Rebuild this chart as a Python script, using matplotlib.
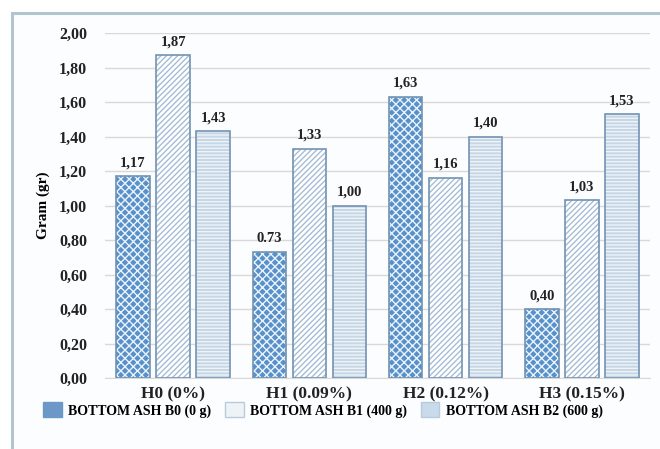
import numpy as np
import matplotlib
matplotlib.use("Agg")
import matplotlib.pyplot as plt
from matplotlib.patches import Rectangle, Patch

# data
groups = ["H0 (0%)", "H1 (0.09%)", "H2 (0.12%)", "H3 (0.15%)"]
series = ["BOTTOM ASH B0 (0 g)", "BOTTOM ASH B1 (400 g)", "BOTTOM ASH B2 (600 g)"]
b0 = [1.17, 0.73, 1.63, 0.40]
b1 = [1.87, 1.33, 1.16, 1.03]
b2 = [1.43, 1.00, 1.40, 1.53]
b0_labels = ["1,17", "0.73", "1,63", "0,40"]
b1_labels = ["1,87", "1,33", "1,16", "1,03"]
b2_labels = ["1,43", "1,00", "1,40", "1,53"]
yticks = [0.0, 0.2, 0.4, 0.6, 0.8, 1.0, 1.2, 1.4, 1.6, 1.8, 2.0]

plt.rcParams["font.family"] = ["Liberation Serif", "DejaVu Serif"]
plt.rcParams["hatch.linewidth"] = 1.0

fig = plt.figure(figsize=(6.6, 4.49), dpi=100)
fig.patch.set_facecolor("white")

# outer frame
fig.patches.append(Rectangle((12 / 660, -0.05), 1.0, 1 - 13 / 449 + 0.05,
                             transform=fig.transFigure, facecolor="#fcfdfe",
                             edgecolor="#b0c5d0", linewidth=2.2, zorder=-10))

ax = fig.add_axes([105 / 660, 1 - 378 / 449, 545 / 660, (378 - 33) / 449])
ax.set_facecolor("none")
ax.set_zorder(1)

x = np.arange(len(groups))
w = 0.245
step = 0.294
styles = [
    (b0, b0_labels, "#5890c9", "#eaf3fc", "xxxx"),
    (b1, b1_labels, "white", "#a5bdd5", "//////"),
    (b2, b2_labels, "#c6d6e5", "#eef3f8", "-----"),
]
edge = "#7393b2"
for i, (vals, labs, fc, hc, hatch) in enumerate(styles):
    pos = x + (i - 1) * step
    ax.bar(pos, vals, width=w, color=fc, edgecolor=hc, hatch=hatch, linewidth=0, zorder=2)
    ax.bar(pos, vals, width=w, color="none", edgecolor=edge, linewidth=1.2, zorder=3)
    for px, v, t in zip(pos, vals, labs):
        ax.text(px, v + 0.04, t, ha="center", va="bottom", fontsize=10.5,
                fontweight="bold", color="#222222")

ax.set_xlim(-0.5, 3.5)
ax.set_ylim(0, 2.0)
ax.set_yticks(yticks)
ax.set_yticklabels([f"{t:.2f}".replace(".", ",") for t in yticks],
                   fontsize=11.5, fontweight="bold", color="#222222")
ax.set_xticks(x)
ax.set_xticklabels(groups, fontsize=12.5, fontweight="bold", color="#222222")
ax.tick_params(axis="both", length=0)
ax.tick_params(axis="y", pad=13)
ax.tick_params(axis="x", pad=6)
ax.grid(axis="y", color="#d9d9d9", linewidth=1.0, zorder=0)
for s in ["top", "right", "left"]:
    ax.spines[s].set_visible(False)
ax.spines["bottom"].set_color("#d9d9d9")
ax.set_ylabel("Gram (gr)", fontsize=11, fontweight="bold", labelpad=6)

handles = [Patch(facecolor="#6b98c7", edgecolor="#6b98c7"),
           Patch(facecolor="#eef3f8", edgecolor="#b8cadb"),
           Patch(facecolor="#c9dbea", edgecolor="#b8cadb")]
fig.legend(handles, series, loc="center", bbox_to_anchor=(0.49, 1 - 410 / 449),
           ncol=3, frameon=False, prop={"size": 10, "weight": "bold"},
           handlelength=1.3, handleheight=1.3, columnspacing=1.0, handletextpad=0.5)

fig.savefig("out.png", dpi=100)
